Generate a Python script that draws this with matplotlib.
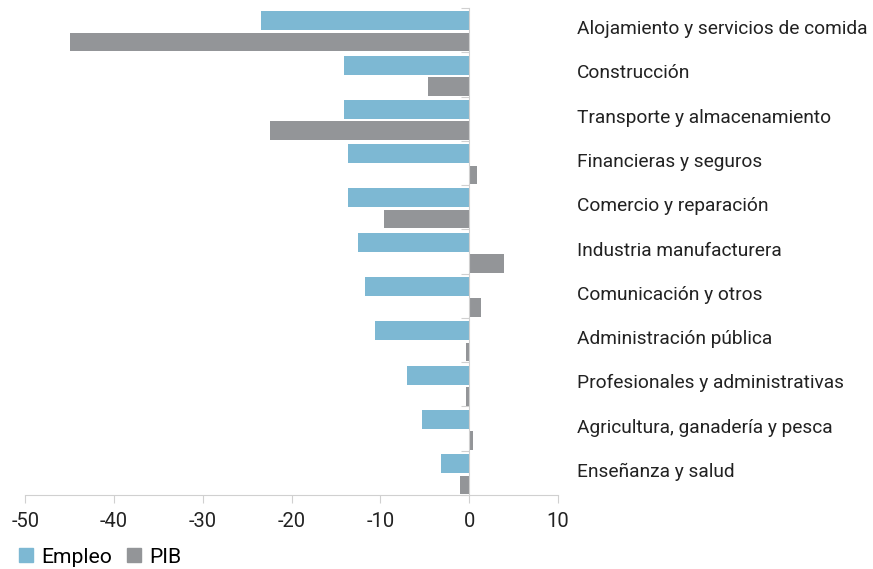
import numpy as np
import matplotlib.pyplot as plt
from matplotlib.patches import Patch

plt.rcParams['font.family'] = ['Roboto', 'DejaVu Sans']
plt.rcParams['axes.unicode_minus'] = False

# Data (variación %), top to bottom
sectores = [
    "Alojamiento y servicios de comida",
    "Construcción",
    "Transporte y almacenamiento",
    "Financieras y seguros",
    "Comercio y reparación",
    "Industria manufacturera",
    "Comunicación y otros",
    "Administración pública",
    "Profesionales y administrativas",
    "Agricultura, ganadería y pesca",
    "Enseñanza y salud",
]
empleo = [-23.4, -14.1, -14.1, -13.6, -13.6, -12.5, -11.7, -10.6, -7.0, -5.3, -3.2]
pib = [-45.0, -4.6, -22.4, 0.9, -9.6, 3.9, 1.3, -0.4, -0.4, 0.4, -1.0]

c_emp = '#7db8d3'
c_pib = '#939598'

fig = plt.figure(figsize=(8.73, 5.69), dpi=100)
ax = fig.add_axes([0.029, 0.130, 0.610, 0.856])

n = len(sectores)
y = np.arange(n)[::-1].astype(float)
ax.barh(y + 0.21, empleo, height=0.43, color=c_emp, zorder=2)
ax.barh(y - 0.27, pib, height=0.42, color=c_pib, zorder=2)

ax.set_xlim(-50, 10)
ax.set_ylim(-0.5, n - 0.5)
ax.set_xticks(range(-50, 11, 10))
ax.tick_params(axis='x', length=6, color='#d0d0d0', labelsize=14.5, pad=6, labelcolor='#222222')

for s in ['top', 'right']:
    ax.spines[s].set_visible(False)
ax.spines['bottom'].set_color('#d0d0d0')
ax.spines['left'].set_position(('data', 0))
ax.spines['left'].set_color('#d0d0d0')
ax.set_yticks(np.arange(-0.5, n, 1.0))
ax.set_yticklabels([])
ax.tick_params(axis='y', length=6, color='#d0d0d0')

for yi, name in zip(y, sectores):
    ax.text(1.036, yi + 0.02, name, transform=ax.get_yaxis_transform(),
            ha='left', va='center', fontsize=13.8, color='#222222')

handles = [Patch(color=c_emp, label='Empleo'), Patch(color=c_pib, label='PIB')]
fig.legend(handles=handles, loc='lower left', bbox_to_anchor=(0.0, -0.029), ncol=2,
           frameon=False, fontsize=15.2, handlelength=0.66, handleheight=0.66,
           handletextpad=0.4, columnspacing=0.7)

fig.savefig('out.png', dpi=100)
